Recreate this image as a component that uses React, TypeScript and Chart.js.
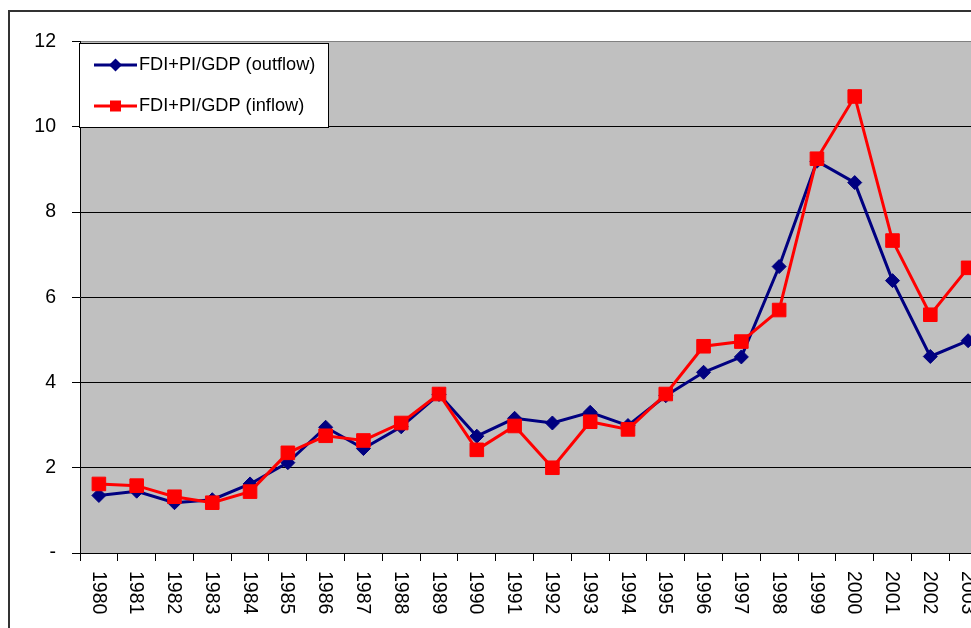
import React, { useEffect, useRef } from 'react';
import { Chart, registerables } from 'chart.js';

Chart.register(...registerables);

const years = ['1980', '1981', '1982', '1983', '1984', '1985', '1986', '1987', '1988', '1989', '1990', '1991', '1992', '1993', '1994', '1995', '1996', '1997', '1998', '1999', '2000', '2001', '2002', '2003'];
const outflow = [1.35, 1.45, 1.18, 1.25, 1.62, 2.12, 2.95, 2.45, 2.96, 3.72, 2.74, 3.16, 3.05, 3.3, 2.99, 3.69, 4.24, 4.6, 6.72, 9.19, 8.69, 6.39, 4.61, 4.98];
const inflow = [1.62, 1.58, 1.32, 1.18, 1.44, 2.35, 2.75, 2.64, 3.05, 3.73, 2.42, 2.98, 2.0, 3.08, 2.9, 3.73, 4.85, 4.96, 5.7, 9.25, 10.71, 7.33, 5.59, 6.69];
const seriesLabels = ['FDI+PI/GDP (outflow)', 'FDI+PI/GDP (inflow)'];
const yMin = 0;
const yMax = 12;
const yStep = 2;

const FONT = "'Liberation Sans', Arial, sans-serif";
const BLUE = '#000080';
const RED = '#FF0000';

export default function App() {
  const ref = useRef<HTMLCanvasElement>(null);

  useEffect(() => {
    if (!ref.current) return;

    const bgPlugin = {
      id: 'plotBg',
      beforeDraw(chart: any) {
        const { ctx, chartArea: a } = chart;
        ctx.save();
        ctx.fillStyle = '#C0C0C0';
        ctx.fillRect(a.left, a.top, a.right - a.left, a.bottom - a.top);
        ctx.restore();
      },
    };

    const xLabelPlugin = {
      id: 'xLabels',
      afterDraw(chart: any) {
        const xs = chart.scales.x;
        const ctx = chart.ctx;
        ctx.save();
        ctx.font = `19.5px ${FONT}`;
        ctx.fillStyle = '#000';
        ctx.textAlign = 'left';
        ctx.textBaseline = 'middle';
        chart.data.labels.forEach((lab: string, i: number) => {
          const px = xs.getPixelForValue(i);
          ctx.save();
          ctx.translate(px - 1, chart.chartArea.bottom + 18);
          ctx.rotate(Math.PI / 2);
          ctx.fillText(lab, 0, 0);
          ctx.restore();
        });
        ctx.restore();
      },
    };

    const legendPlugin = {
      id: 'boxLegend',
      afterDraw(chart: any) {
        const ctx = chart.ctx;
        const a = chart.chartArea;
        const bx = a.left - 1;
        const by = a.top + 1.5;
        const bw = 249;
        const bh = 84;
        ctx.save();
        ctx.fillStyle = '#FFFFFF';
        ctx.fillRect(bx, by, bw, bh);
        ctx.strokeStyle = '#000';
        ctx.lineWidth = 1;
        ctx.strokeRect(Math.round(bx) + 0.5, Math.round(by) + 0.5, bw, bh);
        chart.data.datasets.forEach((ds: any, i: number) => {
          const cy = by + 22 + 41 * i;
          const x0 = a.left + 14;
          const x1 = a.left + 57;
          const cx = (x0 + x1) / 2;
          ctx.strokeStyle = ds.borderColor;
          ctx.lineWidth = 3;
          ctx.beginPath();
          ctx.moveTo(x0, cy);
          ctx.lineTo(x1, cy);
          ctx.stroke();
          ctx.fillStyle = ds.borderColor;
          ctx.beginPath();
          if (ds.pointStyle === 'rectRot') {
            const r = 6.5;
            ctx.moveTo(cx - r, cy);
            ctx.lineTo(cx, cy - r);
            ctx.lineTo(cx + r, cy);
            ctx.lineTo(cx, cy + r);
            ctx.closePath();
          } else {
            const s = 5.5;
            ctx.rect(cx - s, cy - s, 2 * s, 2 * s);
          }
          ctx.fill();
          ctx.fillStyle = '#000';
          ctx.font = `18.2px ${FONT}`;
          ctx.textAlign = 'left';
          ctx.textBaseline = 'middle';
          ctx.fillText(ds.label, a.left + 59, cy);
        });
        ctx.restore();
      },
    };

    const chart = new Chart(ref.current, {
      type: 'line',
      data: {
        labels: years,
        datasets: [
          {
            label: seriesLabels[0],
            data: outflow,
            borderColor: BLUE,
            backgroundColor: BLUE,
            borderWidth: 3,
            pointStyle: 'rectRot',
            pointRadius: 7,
            pointBorderWidth: 1,
            pointBackgroundColor: BLUE,
            pointBorderColor: BLUE,
            tension: 0,
            order: 1,
          },
          {
            label: seriesLabels[1],
            data: inflow,
            borderColor: RED,
            backgroundColor: RED,
            borderWidth: 3,
            pointStyle: 'rect',
            pointRadius: 9.6,
            pointBorderWidth: 1,
            pointBackgroundColor: RED,
            pointBorderColor: RED,
            tension: 0,
            order: 0,
          },
        ],
      },
      options: {
        animation: false,
        responsive: false,
        devicePixelRatio: 1,
        layout: { padding: { top: 29.5, bottom: 71, left: 0, right: 23 } },
        plugins: {
          legend: { display: false },
          tooltip: { enabled: false },
        },
        scales: {
          x: {
            type: 'category',
            offset: true,
            afterFit(scale: any) {
              scale.height = 8;
            },
            grid: {
              display: true,
              offset: true,
              drawOnChartArea: false,
              drawTicks: true,
              tickLength: 8,
              tickColor: '#000',
              tickWidth: 1,
            },
            border: { display: true, color: '#000', width: 1 },
            ticks: { display: false },
          },
          y: {
            min: yMin,
            max: yMax,
            afterFit(scale: any) {
              scale.width = 70;
            },
            grid: {
              color: (c: any) => (c.tick && c.tick.value === yMax ? '#808080' : '#000'),
              lineWidth: 1,
              drawTicks: true,
              tickLength: 8,
              tickColor: '#000',
            },
            border: { display: true, color: '#000', width: 1 },
            ticks: {
              stepSize: yStep,
              padding: 16,
              color: '#000',
              font: { family: FONT, size: 19.5 },
              callback: (v: any) => (Number(v) === 0 ? '-' : String(v)),
            },
          },
        },
      },
      plugins: [bgPlugin, xLabelPlugin, legendPlugin],
    } as any);

    return () => chart.destroy();
  }, []);

  return (
    <div style={{ position: 'absolute', left: 0, top: 0, width: 971, height: 628, overflow: 'hidden', background: '#fff' }}>
      <div style={{ position: 'absolute', left: 8, top: 10, width: 1000, height: 640, border: '2px solid #333', background: '#fff' }}>
        <canvas ref={ref} width={1000} height={620} style={{ display: 'block', width: 1000, height: 620 }} />
      </div>
    </div>
  );
}
